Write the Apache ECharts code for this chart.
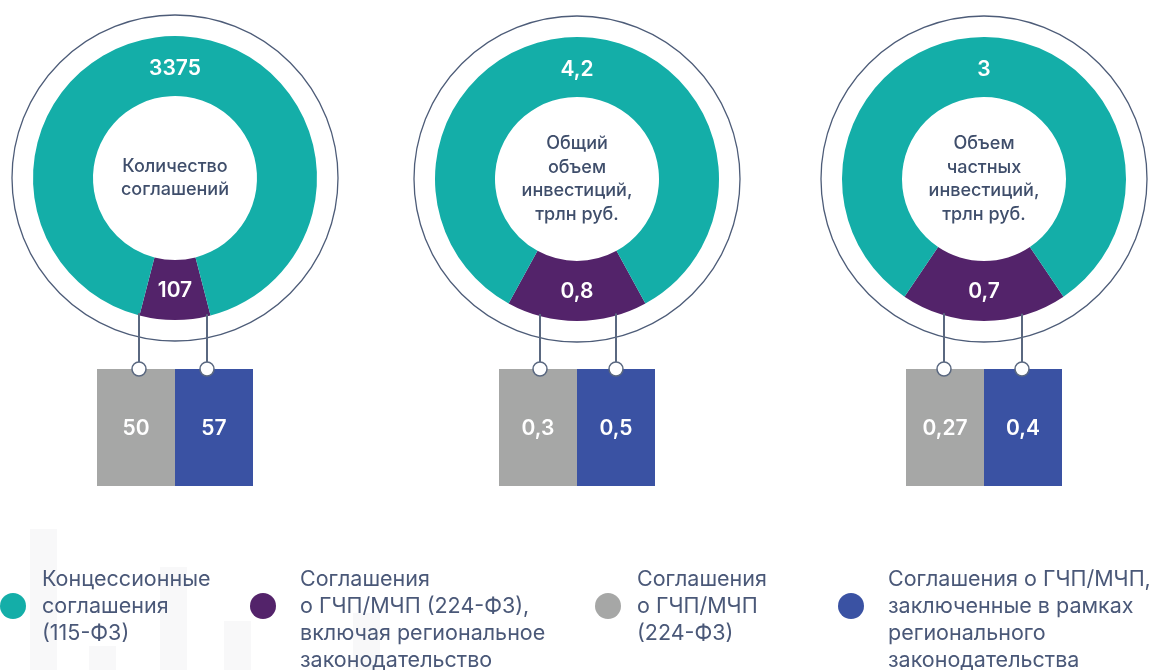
<!DOCTYPE html>
<html>
<head>
<meta charset="utf-8">
<script src="https://cdn.jsdelivr.net/npm/echarts@6/dist/echarts.min.js"></script>
<style>
  html, body { margin: 0; padding: 0; background: #fff; }
  #chart { width: 1157px; height: 670px; }
</style>
</head>
<body>
<div id="chart"></div>
<script>
  // подписи в центре колец
  const ringTitles = [
    'Количество\nсоглашений',
    'Общий\nобъем\nинвестиций,\nтрлн руб.',
    'Объем\nчастных\nинвестиций,\nтрлн руб.'
  ]
  const concessionValues = [3375, 4.2, 3]      // 115-ФЗ
  const pppValues = [107, 0.8, 0.7]             // ГЧП/МЧП всего
  const federalPppValues = [50, 0.3, 0.27]      // 224-ФЗ
  const regionalPppValues = [57, 0.5, 0.4]      // региональное
  const legendNames = [
    'Концессионные\nсоглашения\n(115-ФЗ)',
    'Соглашения\nо ГЧП/МЧП (224-ФЗ),\nвключая региональное\nзаконодательство',
    'Соглашения\nо ГЧП/МЧП\n(224-ФЗ)',
    'Соглашения о ГЧП/МЧП,\nзаключенные в рамках\nрегионального\nзаконодательства'
  ]

  const colors = ['#14aea8', '#53236a', '#a6a7a6', '#3a52a3']
  const textColor = '#3f4e6b'
  const centers = [[175, 178], [577, 179], [984, 179]]
  const linkOffsets = [[-36, 32], [-37, 39], [-40, 38]]
  const R0 = 82, R1 = 142, RING = 163
  const MIN_ANGLE = 29
  const FONT = 'Inter, "Noto Sans", sans-serif'

  const fmt = v => String(v).replace('.', ',')

  let chart = echarts.init(document.getElementById('chart'))
  let series = []
  let graphic = []

  // бледные столбики фона под легендой
  ;[[30, 529], [89, 646], [160, 567], [224, 621], [353, 613]].forEach(b => {
    graphic.push({
      type: 'rect',
      shape: { x: b[0], y: b[1], width: 27, height: 670 - b[1] },
      style: { fill: '#f8f8f9' },
      silent: true,
      z: -1
    })
  })

  centers.forEach((c, i) => {
    let total = concessionValues[i] + pppValues[i]
    let ang = Math.max(pppValues[i] / total * 360, MIN_ANGLE)
    series.push({
      type: 'pie',
      center: c,
      radius: [R0, R1],
      startAngle: 270 + ang / 2,
      minAngle: MIN_ANGLE,
      clockwise: true,
      avoidLabelOverlap: false,
      silent: true,
      itemStyle: { borderWidth: 0 },
      label: {
        position: 'inside',
        color: '#fff',
        fontFamily: FONT,
        fontSize: 21,
        fontWeight: 600,
        formatter: p => fmt(p.value)
      },
      labelLayout: p => ({ dy: p.dataIndex === 1 ? 6 : -2 }),
      labelLine: { show: false },
      emphasis: { disabled: true },
      data: [
        { value: pppValues[i], name: 'ppp', itemStyle: { color: colors[1] } },
        { value: concessionValues[i], name: 'concession', itemStyle: { color: colors[0] } }
      ]
    })

    // внешнее тонкое кольцо
    graphic.push({
      type: 'circle',
      shape: { cx: c[0], cy: c[1], r: RING },
      style: { fill: 'none', stroke: '#4d5c78', lineWidth: 1.3 },
      silent: true
    })
    // подпись в центре
    graphic.push({
      type: 'text',
      x: c[0], y: c[1],
      style: {
        text: ringTitles[i],
        fill: textColor,
        font: '500 18px ' + FONT,
        lineHeight: 23.5,
        align: 'center', verticalAlign: 'middle',
        textAlign: 'center', textVerticalAlign: 'middle'
      }
    })

    // плашки с разбивкой и выноски
    let boxW = 78, boxH = 117, boxTop = 369
    let boxVals = [federalPppValues[i], regionalPppValues[i]]
    boxVals.forEach((v, k) => {
      let left = c[0] - boxW + k * boxW
      graphic.push({
        type: 'rect',
        shape: { x: left, y: boxTop, width: boxW, height: boxH },
        style: { fill: colors[2 + k] },
        z: 1
      })
      graphic.push({
        type: 'text',
        x: left + boxW / 2, y: boxTop + boxH / 2 + 1,
        style: {
          text: fmt(v),
          fill: '#fff',
          font: '600 21px ' + FONT,
          align: 'center', verticalAlign: 'middle',
          textAlign: 'center', textVerticalAlign: 'middle'
        },
        z: 2
      })
      let dx = linkOffsets[i][k]
      let lx = c[0] + dx
      let y0 = c[1] + Math.sqrt(R1 * R1 - dx * dx) - 2
      graphic.push({
        type: 'line',
        shape: { x1: lx, y1: y0, x2: lx, y2: boxTop },
        style: { stroke: '#5a6880', lineWidth: 2 },
        z: 3
      })
      graphic.push({
        type: 'circle',
        shape: { cx: lx, cy: boxTop, r: 7 },
        style: { fill: '#fff', stroke: '#5a6880', lineWidth: 1.5 },
        z: 4
      })
    })
  })

  // легенда
  const legendPos = [[13, 42], [263, 300], [608, 637], [851, 888]]
  legendNames.forEach((name, i) => {
    graphic.push({
      type: 'circle',
      shape: { cx: legendPos[i][0], cy: 606, r: 13 },
      style: { fill: colors[i] }
    })
    graphic.push({
      type: 'text',
      x: legendPos[i][1], y: 566,
      style: {
        text: name,
        fill: '#4a5878',
        font: '400 21.5px ' + FONT,
        lineHeight: 27,
        align: 'left', verticalAlign: 'top',
        textAlign: 'left', textVerticalAlign: 'top'
      }
    })
  })

  let option = {
    backgroundColor: '#fff',
    animation: false,
    series: series,
    graphic: graphic
  }
  chart.setOption(option)
</script>
</body>
</html>
